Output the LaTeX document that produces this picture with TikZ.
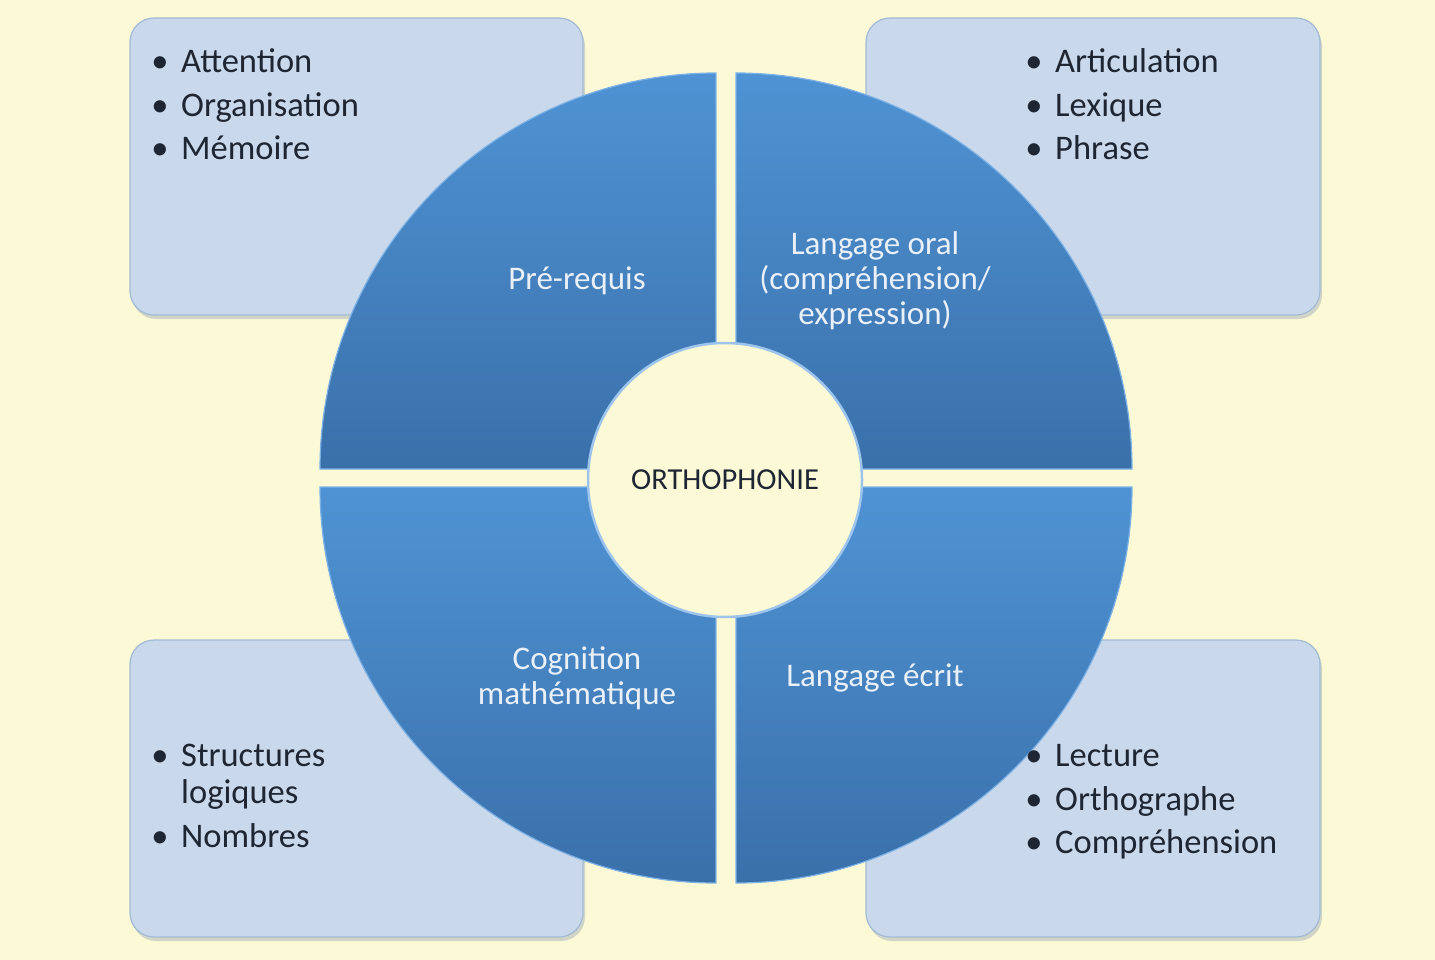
\documentclass[tikz,border=0pt]{standalone}
\usepackage{fontspec}
\setmainfont{Carlito}
\definecolor{bg}{HTML}{FCFAD6}
\definecolor{boxfill}{HTML}{C9D9EB}
\definecolor{boxline}{HTML}{A3BAD4}
\definecolor{shadowc}{HTML}{AEB8BE}
\definecolor{txt}{HTML}{1E2533}
\definecolor{qtop}{HTML}{4F93D4}
\definecolor{qbot}{HTML}{3A70AA}
\definecolor{qedge}{HTML}{7DB2E6}
\definecolor{qtext}{HTML}{EAF0F8}
\definecolor{ring}{HTML}{9CC4EC}
\begin{document}
\begin{tikzpicture}[x=1pt,y=-1pt,
  box/.style={rounded corners=24pt, fill=boxfill, draw=boxline, line width=1.2pt},
  shadowbox/.style={rounded corners=24pt, fill=shadowc, opacity=0.55},
  item/.style={anchor=base west, text=txt, font=\fontsize{34.5}{40}\selectfont, inner sep=0pt},
  dot/.style={anchor=base, text=txt, font=\fontsize{34.5}{40}\selectfont, inner sep=0pt},
  quad/.style={top color=qtop, bottom color=qbot, draw=qedge, line width=1.2pt},
  qlabel/.style={text=qtext, font=\fontsize{33}{35}\selectfont, align=center, inner sep=0pt},
  hub/.style={circle, fill=bg, draw=ring, line width=2.5pt, minimum size=274pt, inner sep=0pt, text=txt, font=\fontsize{30.5}{34}\selectfont}
]
\useasboundingbox (0,0) rectangle (1435,960);
\fill[bg] (0,0) rectangle (1435,960);

% shadows
\fill[shadowbox] (132,22) rectangle (585,319);
\fill[shadowbox] (868,22) rectangle (1322,319);
\fill[shadowbox] (132,644) rectangle (585,941);
\fill[shadowbox] (868,644) rectangle (1322,941);
% boxes
\path[box] (130,18) rectangle (583,315);
\path[box] (866,18) rectangle (1320,315);
\path[box] (130,640) rectangle (583,937);
\path[box] (866,640) rectangle (1320,937);

% top-left list
\node[dot] (d1) at (160,73) {•};
\node[item] (t1) at (181,73) {Attention};
\node[dot] (d2) at (160,117) {•};
\node[item] (t2) at (181,117) {Organisation};
\node[dot] (d3) at (160,160) {•};
\node[item] (t3) at (181,160) {Mémoire};
% top-right list
\node[dot] (d4) at (1034,73) {•};
\node[item] (t4) at (1055,73) {Articulation};
\node[dot] (d5) at (1034,117) {•};
\node[item] (t5) at (1055,117) {Lexique};
\node[dot] (d6) at (1034,160) {•};
\node[item] (t6) at (1055,160) {Phrase};
% bottom-left list
\node[dot] (d7) at (160,766) {•};
\node[item] (t7) at (181,766) {Structures};
\node[item] (t7b) at (181,803) {logiques};
\node[dot] (d8) at (160,847) {•};
\node[item] (t8) at (181,847) {Nombres};

% quadrants
\path[quad] (716,469) -- ++(-396,0) arc[start angle=180, end angle=270, radius=396] -- cycle;
\path[quad] (736,469) -- ++(0,-396) arc[start angle=270, end angle=360, radius=396] -- cycle;
\path[quad] (736,487) -- ++(396,0) arc[start angle=0, end angle=90, radius=396] -- cycle;
\path[quad] (716,487) -- ++(0,396) arc[start angle=90, end angle=180, radius=396] -- cycle;

% bottom-right list (over quadrant)
\node[dot] (d9) at (1034,766) {•};
\node[item] (t9) at (1055,766) {Lecture};
\node[dot] (d10) at (1034,810) {•};
\node[item] (t10) at (1055,810) {Orthographe};
\node[dot] (d11) at (1034,853) {•};
\node[item] (t11) at (1055,853) {Compréhension};

% quadrant labels
\node[qlabel] (q1) at (577,281) {Pré-requis};
\node[qlabel] (q2) at (875,281) {Langage oral\\(compréhension/\\expression)};
\node[qlabel] (q3) at (577,678) {Cognition\\mathématique};
\node[qlabel] (q4) at (875,678) {Langage écrit};

% hub
\node[hub] (hub) at (725,480) {ORTHOPHONIE};
\end{tikzpicture}
\end{document}
